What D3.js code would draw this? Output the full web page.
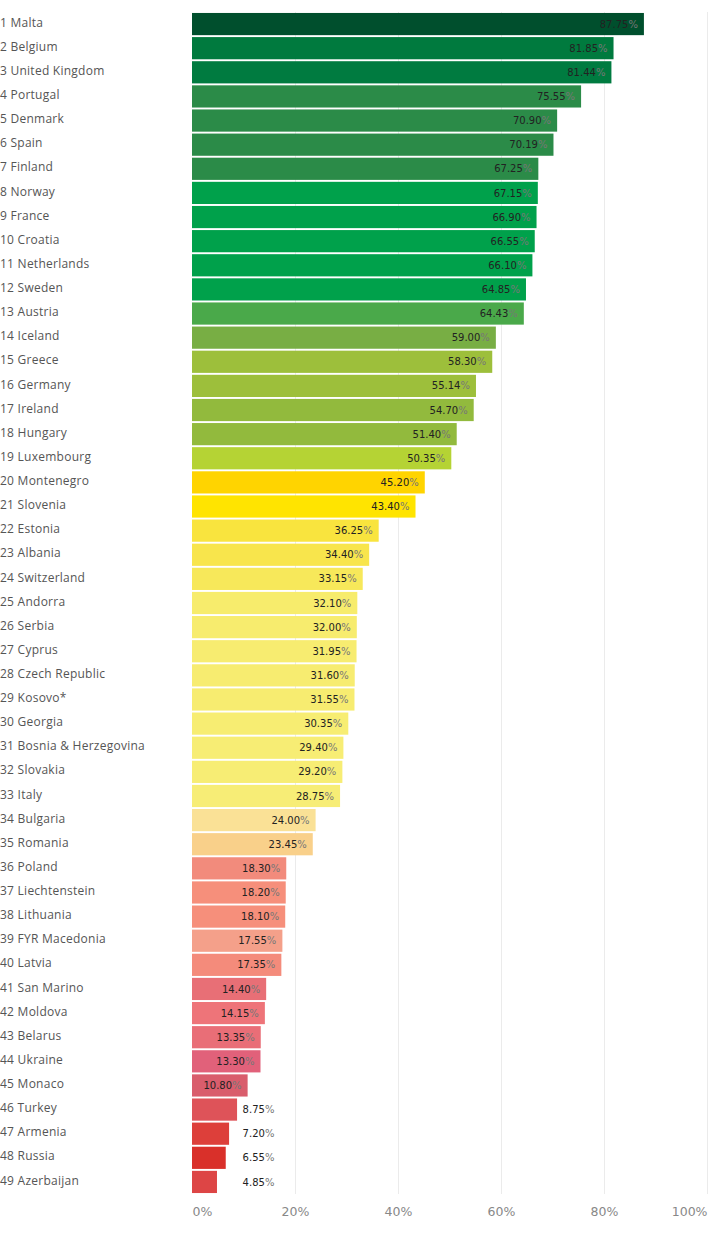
<!DOCTYPE html>
<html lang="en">
<head>
    <meta charset="UTF-8">
    <title>Ranking</title>
    <script src="https://d3js.org/d3.v7.min.js"></script>
    <style>
        body { margin: 0; background: #fff; }
        .country { font-family: "Open Sans", sans-serif; font-size: 12px; fill: #555; letter-spacing: 0.25px; }
        .value { font-family: "DejaVu Sans", sans-serif; font-size: 10px; fill: #222; }
        .value .pct { fill: #777; }
        .axis text { font-family: "DejaVu Sans", sans-serif; font-size: 12.5px; fill: #888; }
        .grid line { stroke: #ebebeb; stroke-width: 1; }
    </style>
</head>
<body>
    <svg id="chart"></svg>

    <script>
        var countries = ["Malta", "Belgium", "United Kingdom", "Portugal", "Denmark", "Spain", "Finland",
            "Norway", "France", "Croatia", "Netherlands", "Sweden", "Austria", "Iceland", "Greece",
            "Germany", "Ireland", "Hungary", "Luxembourg", "Montenegro", "Slovenia", "Estonia", "Albania",
            "Switzerland", "Andorra", "Serbia", "Cyprus", "Czech Republic", "Kosovo*", "Georgia",
            "Bosnia & Herzegovina", "Slovakia", "Italy", "Bulgaria", "Romania", "Poland", "Liechtenstein",
            "Lithuania", "FYR Macedonia", "Latvia", "San Marino", "Moldova", "Belarus", "Ukraine", "Monaco",
            "Turkey", "Armenia", "Russia", "Azerbaijan"];

        var scores = [87.75, 81.85, 81.44, 75.55, 70.90, 70.19, 67.25, 67.15, 66.90, 66.55, 66.10, 64.85,
            64.43, 59.00, 58.30, 55.14, 54.70, 51.40, 50.35, 45.20, 43.40, 36.25, 34.40, 33.15, 32.10,
            32.00, 31.95, 31.60, 31.55, 30.35, 29.40, 29.20, 28.75, 24.00, 23.45, 18.30, 18.20, 18.10,
            17.55, 17.35, 14.40, 14.15, 13.35, 13.30, 10.80, 8.75, 7.20, 6.55, 4.85];

        var xTicks = [0, 20, 40, 60, 80, 100];

        // bar fill per rank, picked off the original
        var barColors = ["#004f2d", "#007a3e", "#007b40", "#2b8b48", "#2b8b48", "#2b8b48", "#2b8b48",
            "#00a14b", "#00a14b", "#00a14b", "#00a14b", "#00a14b", "#4aa94a", "#78ae44", "#9dbf3b",
            "#9dbf3b", "#92ba3d", "#92ba3d", "#b5d334", "#ffd400", "#ffe400", "#f9e43e", "#f8e54c",
            "#f7e85a", "#f7ec6c", "#f7ec6e", "#f7ec70", "#f7ec70", "#f7ec70", "#f7ed72", "#f7ed74",
            "#f7ed74", "#f7ed76", "#fae196", "#f9d08a", "#f28b7c", "#f68f7b", "#f68f7b", "#f4a08a",
            "#f48b7b", "#e86f76", "#ee7479", "#e96e77", "#e1617a", "#d95d6c", "#de5359", "#dd3f3a",
            "#d9302a", "#dd4545"];

        var width = 720, height = 1236;
        var x0 = 192, x1 = 707;

        var svg = d3.select("#chart")
                    .attr("width", width)
                    .attr("height", height);

        var xScale = d3.scaleLinear()
                       .domain([0, 100])
                       .range([x0, x1]);

        var yScale = d3.scaleBand()
                       .domain(d3.range(countries.length))
                       .range([12, 1194])
                       .paddingInner(0.08)
                       .paddingOuter(0.04);

        // vertical grid
        svg.append("g")
           .attr("class", "grid")
           .selectAll("line")
           .data(xTicks.slice(1))
           .enter().append("line")
           .attr("x1", function(d) { return Math.round(xScale(d)) + 0.5; })
           .attr("x2", function(d) { return Math.round(xScale(d)) + 0.5; })
           .attr("y1", 12)
           .attr("y2", 1194);

        svg.selectAll(".bar")
           .data(scores)
           .enter().append("rect")
           .attr("class", "bar")
           .attr("x", xScale(0))
           .attr("y", function(d, i) { return yScale(i); })
           .attr("width", function(d) { return xScale(d) - xScale(0); })
           .attr("height", yScale.bandwidth())
           .attr("fill", function(d, i) { return barColors[i]; });

        svg.selectAll(".country")
           .data(countries)
           .enter().append("text")
           .attr("class", "country")
           .attr("x", 0)
           .attr("y", function(d, i) { return yScale(i) + yScale.bandwidth() / 2; })
           .attr("dy", "0.22em")
           .text(function(d, i) { return (i + 1) + " " + d; });

        // values: inside the bar, or at a fixed spot when the bar is too short
        var vals = svg.selectAll(".value")
           .data(scores)
           .enter().append("text")
           .attr("class", "value")
           .attr("text-anchor", "end")
           .attr("x", function(d) { return d < 10 ? xScale(16) : xScale(d) - 6; })
           .attr("y", function(d, i) { return yScale(i) + yScale.bandwidth() / 2; })
           .attr("dy", "0.36em");
        vals.append("tspan").text(function(d) { return d.toFixed(2); });
        vals.append("tspan").attr("class", "pct").text("%");

        var axis = svg.append("g")
           .attr("class", "axis")
           .attr("transform", "translate(0,1194)")
           .call(d3.axisBottom(xScale).tickValues(xTicks)
                   .tickFormat(function(d) { return d + "%"; })
                   .tickSize(0).tickPadding(13));
        axis.select(".domain").remove();
        axis.selectAll("text")
            .attr("text-anchor", function(d) { return d === 0 ? "start" : (d === 100 ? "end" : "middle"); });
    </script>
</body>
</html>
